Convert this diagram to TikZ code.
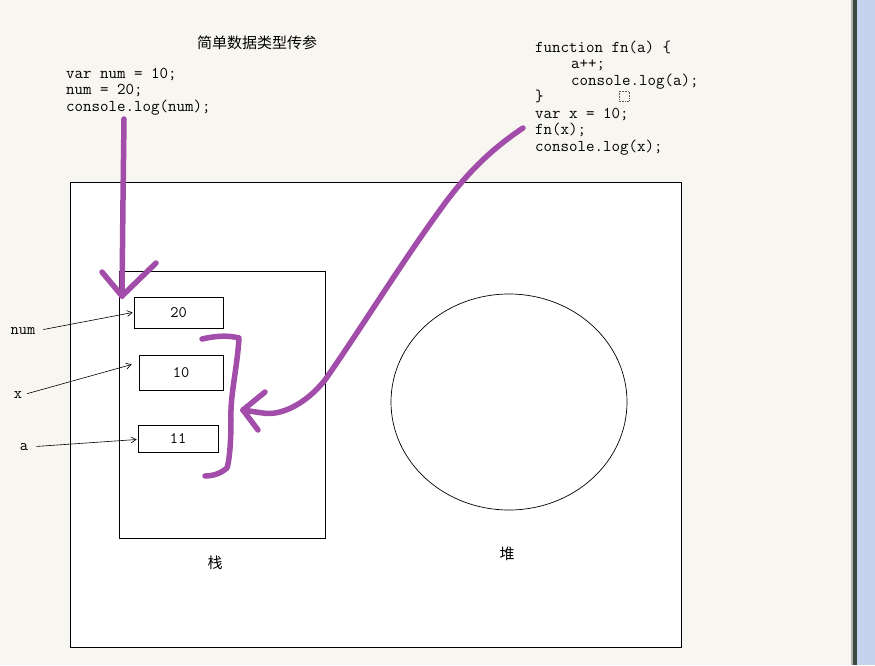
\documentclass[tikz,border=0pt]{standalone}
\usepackage{fontspec}
\usetikzlibrary{arrows.meta}
\newfontfamily\cjk{Noto Sans CJK SC}
\definecolor{bgcream}{HTML}{F8F6F0}
\definecolor{pen}{HTML}{A14DA9}
\definecolor{sidebar}{HTML}{C5D3EE}
\definecolor{sidedark}{HTML}{3C4A44}
\tikzset{
  codeline/.style={anchor=base west, inner sep=0pt, font=\ttfamily\fontsize{16.5}{18}\selectfont},
  cell/.style={draw=black, line width=0.8pt, fill=white, inner sep=0pt, font=\ttfamily\fontsize{16}{18}\selectfont},
  varlabel/.style={inner sep=0pt, font=\ttfamily\fontsize{16}{18}\selectfont},
  cjklabel/.style={anchor=base, inner sep=0pt, font=\cjk\fontsize{15}{18}\selectfont},
  ptr/.style={-{Straight Barb[length=5pt,width=6pt]}, line width=0.6pt},
  penstroke/.style={draw=pen, line width=5.5pt, line cap=round, line join=round}
}
\begin{document}
\begin{tikzpicture}[x=1pt,y=-1pt]
\useasboundingbox (0,0) rectangle (875,665);
% background
\fill[bgcream] (0,0) rectangle (852,665);
\fill[gray!60] (851,0) rectangle (852.5,665);
\fill[sidedark] (852.5,0) rectangle (857,665);
\fill[sidebar] (857,0) rectangle (875,665);

% title
\node[cjklabel] (title) at (257,48) {简单数据类型传参};

% left code
\node[codeline] (l1) at (66,78) {var num = 10;};
\node[codeline] (l2) at (66,94.5) {num = 20;};
\node[codeline] (l3) at (66,111) {console.log(num);};

% right code
\node[codeline] (r1) at (535,52) {function fn(a) \{};
\node[codeline] (r2) at (571,68.5) {a++;};
\node[codeline] (r3) at (571,85) {console.log(a);};
\node[codeline] (r4) at (535,101.5) {\}};
\node[codeline] (r5) at (535,118) {var x = 10;};
\node[codeline] (r6) at (535,134.5) {fn(x);};
\node[codeline] (r7) at (535,151) {console.log(x);};
\draw[densely dotted, line width=0.6pt, gray!70!black] (619,91) rectangle (629,101);

% memory frame
\draw[fill=white, line width=0.8pt] (70,182) rectangle (681,647);
% stack
\draw[line width=0.8pt] (119,271) rectangle (325,538);
% heap
\draw[line width=0.7pt] (509,402) ellipse [x radius=118, y radius=108];

\node[cjklabel] (stack) at (215,568) {栈};
\node[cjklabel] (heap) at (507,559) {堆};

% cells
\node[cell, minimum width=89pt, minimum height=31pt] (b20) at (178.5,312.5) {20};
\node[cell, minimum width=84pt, minimum height=35pt] (b10) at (181,372.5) {10};
\node[cell, minimum width=80pt, minimum height=27pt] (b11) at (178,438.5) {11};

% variable labels
\node[varlabel] (num) at (23,331) {num};
\node[varlabel] (x) at (18,395) {x};
\node[varlabel] (a) at (24,447) {a};

\draw[ptr, shorten <=8pt] (num.east) -- ([xshift=-1pt]b20.west);
\draw[ptr, shorten <=5pt] (x.east) -- ([xshift=-7pt,yshift=8pt]b10.west);
\draw[ptr, shorten <=8pt] (a.east) -- ([xshift=-1pt,yshift=-1pt]b11.west);

% purple pen strokes
\coordinate (p1) at (124,119);
\coordinate (p1tip) at (122,296);
\draw[penstroke] (p1) -- (123,200) -- (p1tip);
\draw[penstroke] (102,272) -- (p1tip);
\draw[penstroke] (156,263) -- (p1tip);

% bracket
\draw[penstroke] (202,339) .. controls (215,336) and (228,335) .. (239,338)
  .. controls (237,370) and (230,395) .. (231,420)
  .. controls (231,445) and (229,462) .. (227,468)
  .. controls (220,474) and (212,476) .. (205,476);

% curved arrow
\coordinate (p2) at (523,128);
\coordinate (p2tip) at (243,410);
\draw[penstroke] (p2) .. controls (490,150) and (465,175) .. (440,210)
  .. controls (400,265) and (360,330) .. (325,380)
  .. controls (305,405) and (280,416) .. (263,413)
  .. controls (255,412) and (250,411) .. (p2tip);
\draw[penstroke] (265,392) -- (p2tip);
\draw[penstroke] (258,430) -- (p2tip);
\end{tikzpicture}
\end{document}
